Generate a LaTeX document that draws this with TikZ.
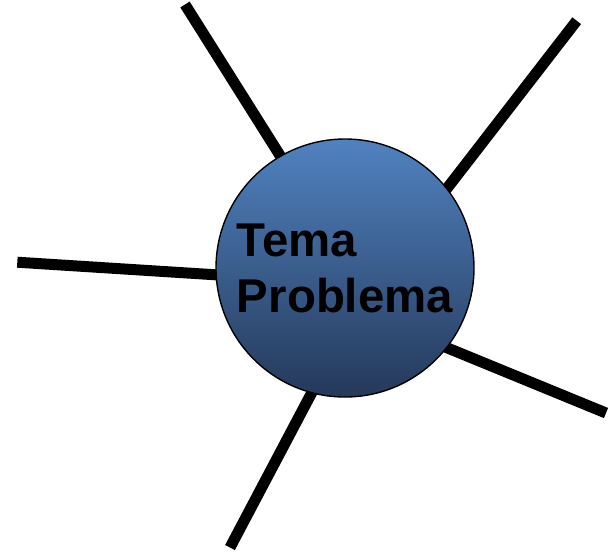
\documentclass[tikz,border=0pt]{standalone}
\usepackage{fontspec}
\setmainfont{Liberation Sans}
\usetikzlibrary{backgrounds}
\definecolor{topblue}{RGB}{80,130,192}
\definecolor{bottomblue}{RGB}{37,57,90}
\tikzset{x=0.5pt, y=-0.5pt}
\tikzset{spoke/.style={line width=5.5pt, shorten >=-8pt}}
\begin{document}
\begin{tikzpicture}[x=0.5pt,y=-0.5pt]
\useasboundingbox (0,0) rectangle (610,554);
% the theme in the middle
\node[circle, draw, line width=0.7pt, minimum size=129pt, inner sep=0pt,
      top color=topblue, bottom color=bottomblue, align=left,
      font=\fontsize{23.7}{28}\selectfont\bfseries] (tema) at (345,268) {Tema\\Problema};
% free ends of the spokes
\coordinate (s1) at (185,4.5);
\coordinate (s2) at (576.7,20.7);
\coordinate (s3) at (17.3,262.2);
\coordinate (s4) at (606,413);
\coordinate (s5) at (230,547.5);
\begin{scope}[on background layer]
\draw[spoke] (s1) -- (tema.120);
\draw[spoke] (s2) -- (tema.38);
\draw[spoke] (s3) -- (tema.183);
\draw[spoke] (s4) -- (tema.-38);
\draw[spoke] (s5) -- (tema.-105);
\end{scope}
\end{tikzpicture}
\end{document}
